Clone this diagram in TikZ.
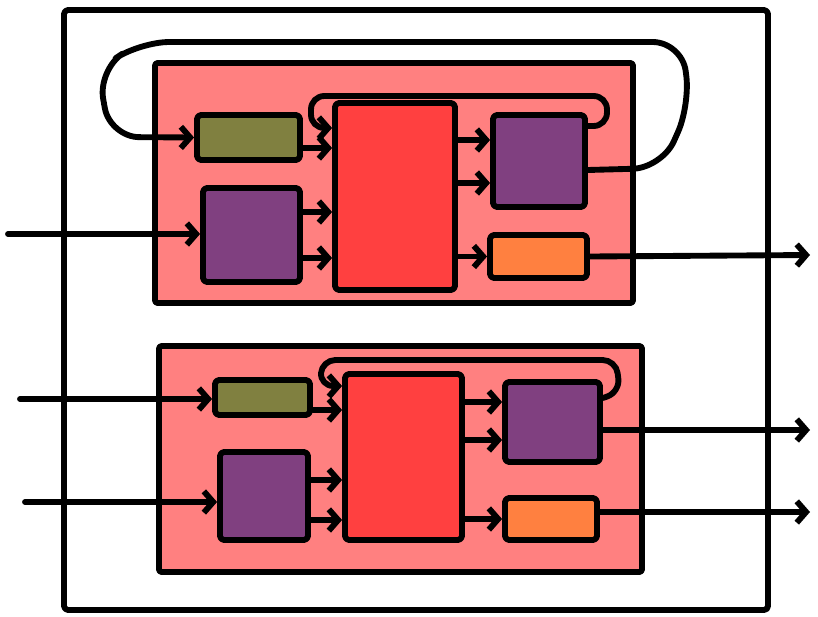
\documentclass[tikz,border=0pt]{standalone}
\usetikzlibrary{arrows.meta,fit}
\definecolor{pinkbg}{HTML}{FF8080}
\definecolor{redblk}{HTML}{FF4040}
\definecolor{olivebx}{HTML}{808040}
\definecolor{purplebx}{HTML}{804080}
\definecolor{orangebx}{HTML}{FF8040}
\begin{document}
\begin{tikzpicture}[x=0.75pt,y=-0.75pt,line cap=round,line join=round,line width=4.4pt,
  box/.style={draw,inner sep=0pt,rounded corners=3pt},
  module/.style={box,fill=pinkbg,rounded corners=2pt},
  arr/.style={-{Straight Barb[length=7pt,width=16pt]}}]
  \useasboundingbox (0,0) rectangle (818,617);
  \node[box,fit={(64,10) (768,610)}] (outer) {};
  % upper module
  \node[module,fit={(155,63) (633,303)}] (modA) {};
  \node[box,fill=olivebx,fit={(197,115) (300,160)}] (olA) {};
  \node[box,fill=purplebx,fit={(203,188) (300,282)}] (puA) {};
  \node[box,fill=redblk,fit={(335,103) (455,290)}] (rdA) {};
  \node[box,fill=purplebx,fit={(493,115) (585,207)}] (puB) {};
  \node[box,fill=orangebx,fit={(490,235) (587,278)}] (orA) {};
  \coordinate (inA) at (8,234);
  \coordinate (outA) at (810,255);
  \draw[arr] (inA) -- (puA.west |- inA);
  \draw[arr] (olA.east |- 0,148) -- (rdA.west |- 0,148);
  \draw[arr] (puA.east |- 0,212) -- (rdA.west |- 0,212);
  \draw[arr] (puA.east |- 0,258) -- (rdA.west |- 0,258);
  \draw[arr] (rdA.east |- 0,140) -- (puB.west |- 0,140);
  \draw[arr] (rdA.east |- 0,183) -- (puB.west |- 0,183);
  \draw[arr] (rdA.east |- orA.west) -- (orA.west);
  \draw[arr] (orA.east) -- (outA);
  \draw[arr,rounded corners=10pt] (puB.east |- 0,126) -- (607,126) -- (607,96) -- (311,96) -- (311,128) -- (rdA.west |- 0,128);
  \draw[arr,rounded corners=22pt] (puB.east |- 0,170) -- (662,168) -- (690,105) -- (682,42) -- (140,42) -- (98,70) -- (110,137) -- (olA.west);
  % lower module
  \node[module,fit={(159,346) (642,572)}] (modC) {};
  \node[box,fill=olivebx,fit={(215,380) (310,415)}] (olC) {};
  \node[box,fill=purplebx,fit={(220,452) (308,540)}] (puC) {};
  \node[box,fill=redblk,fit={(345,374) (462,540)}] (rdC) {};
  \node[box,fill=purplebx,fit={(505,382) (600,462)}] (puD) {};
  \node[box,fill=orangebx,fit={(505,498) (597,540)}] (orC) {};
  \coordinate (inC) at (20,399);
  \coordinate (inD) at (25,502);
  \coordinate (outC) at (810,430);
  \coordinate (outD) at (810,512);
  \draw[arr] (inC) -- (olC.west |- inC);
  \draw[arr] (inD) -- (puC.west |- inD);
  \draw[arr] (olC.east |- 0,410) -- (rdC.west |- 0,410);
  \draw[arr] (puC.east |- 0,480) -- (rdC.west |- 0,480);
  \draw[arr] (puC.east |- 0,520) -- (rdC.west |- 0,520);
  \draw[arr] (rdC.east |- 0,402) -- (puD.west |- 0,402);
  \draw[arr] (rdC.east |- 0,440) -- (puD.west |- 0,440);
  \draw[arr] (rdC.east |- orC.west) -- (orC.west);
  \draw[arr] (puD.east |- outC) -- (outC);
  \draw[arr] (orC.east |- outD) -- (outD);
  \draw[arr,rounded corners=10pt] (puD.east |- 0,398) -- (620,392) -- (616,360) -- (322,360) -- (320,386) -- (rdC.west |- 0,386);
\end{tikzpicture}
\end{document}
